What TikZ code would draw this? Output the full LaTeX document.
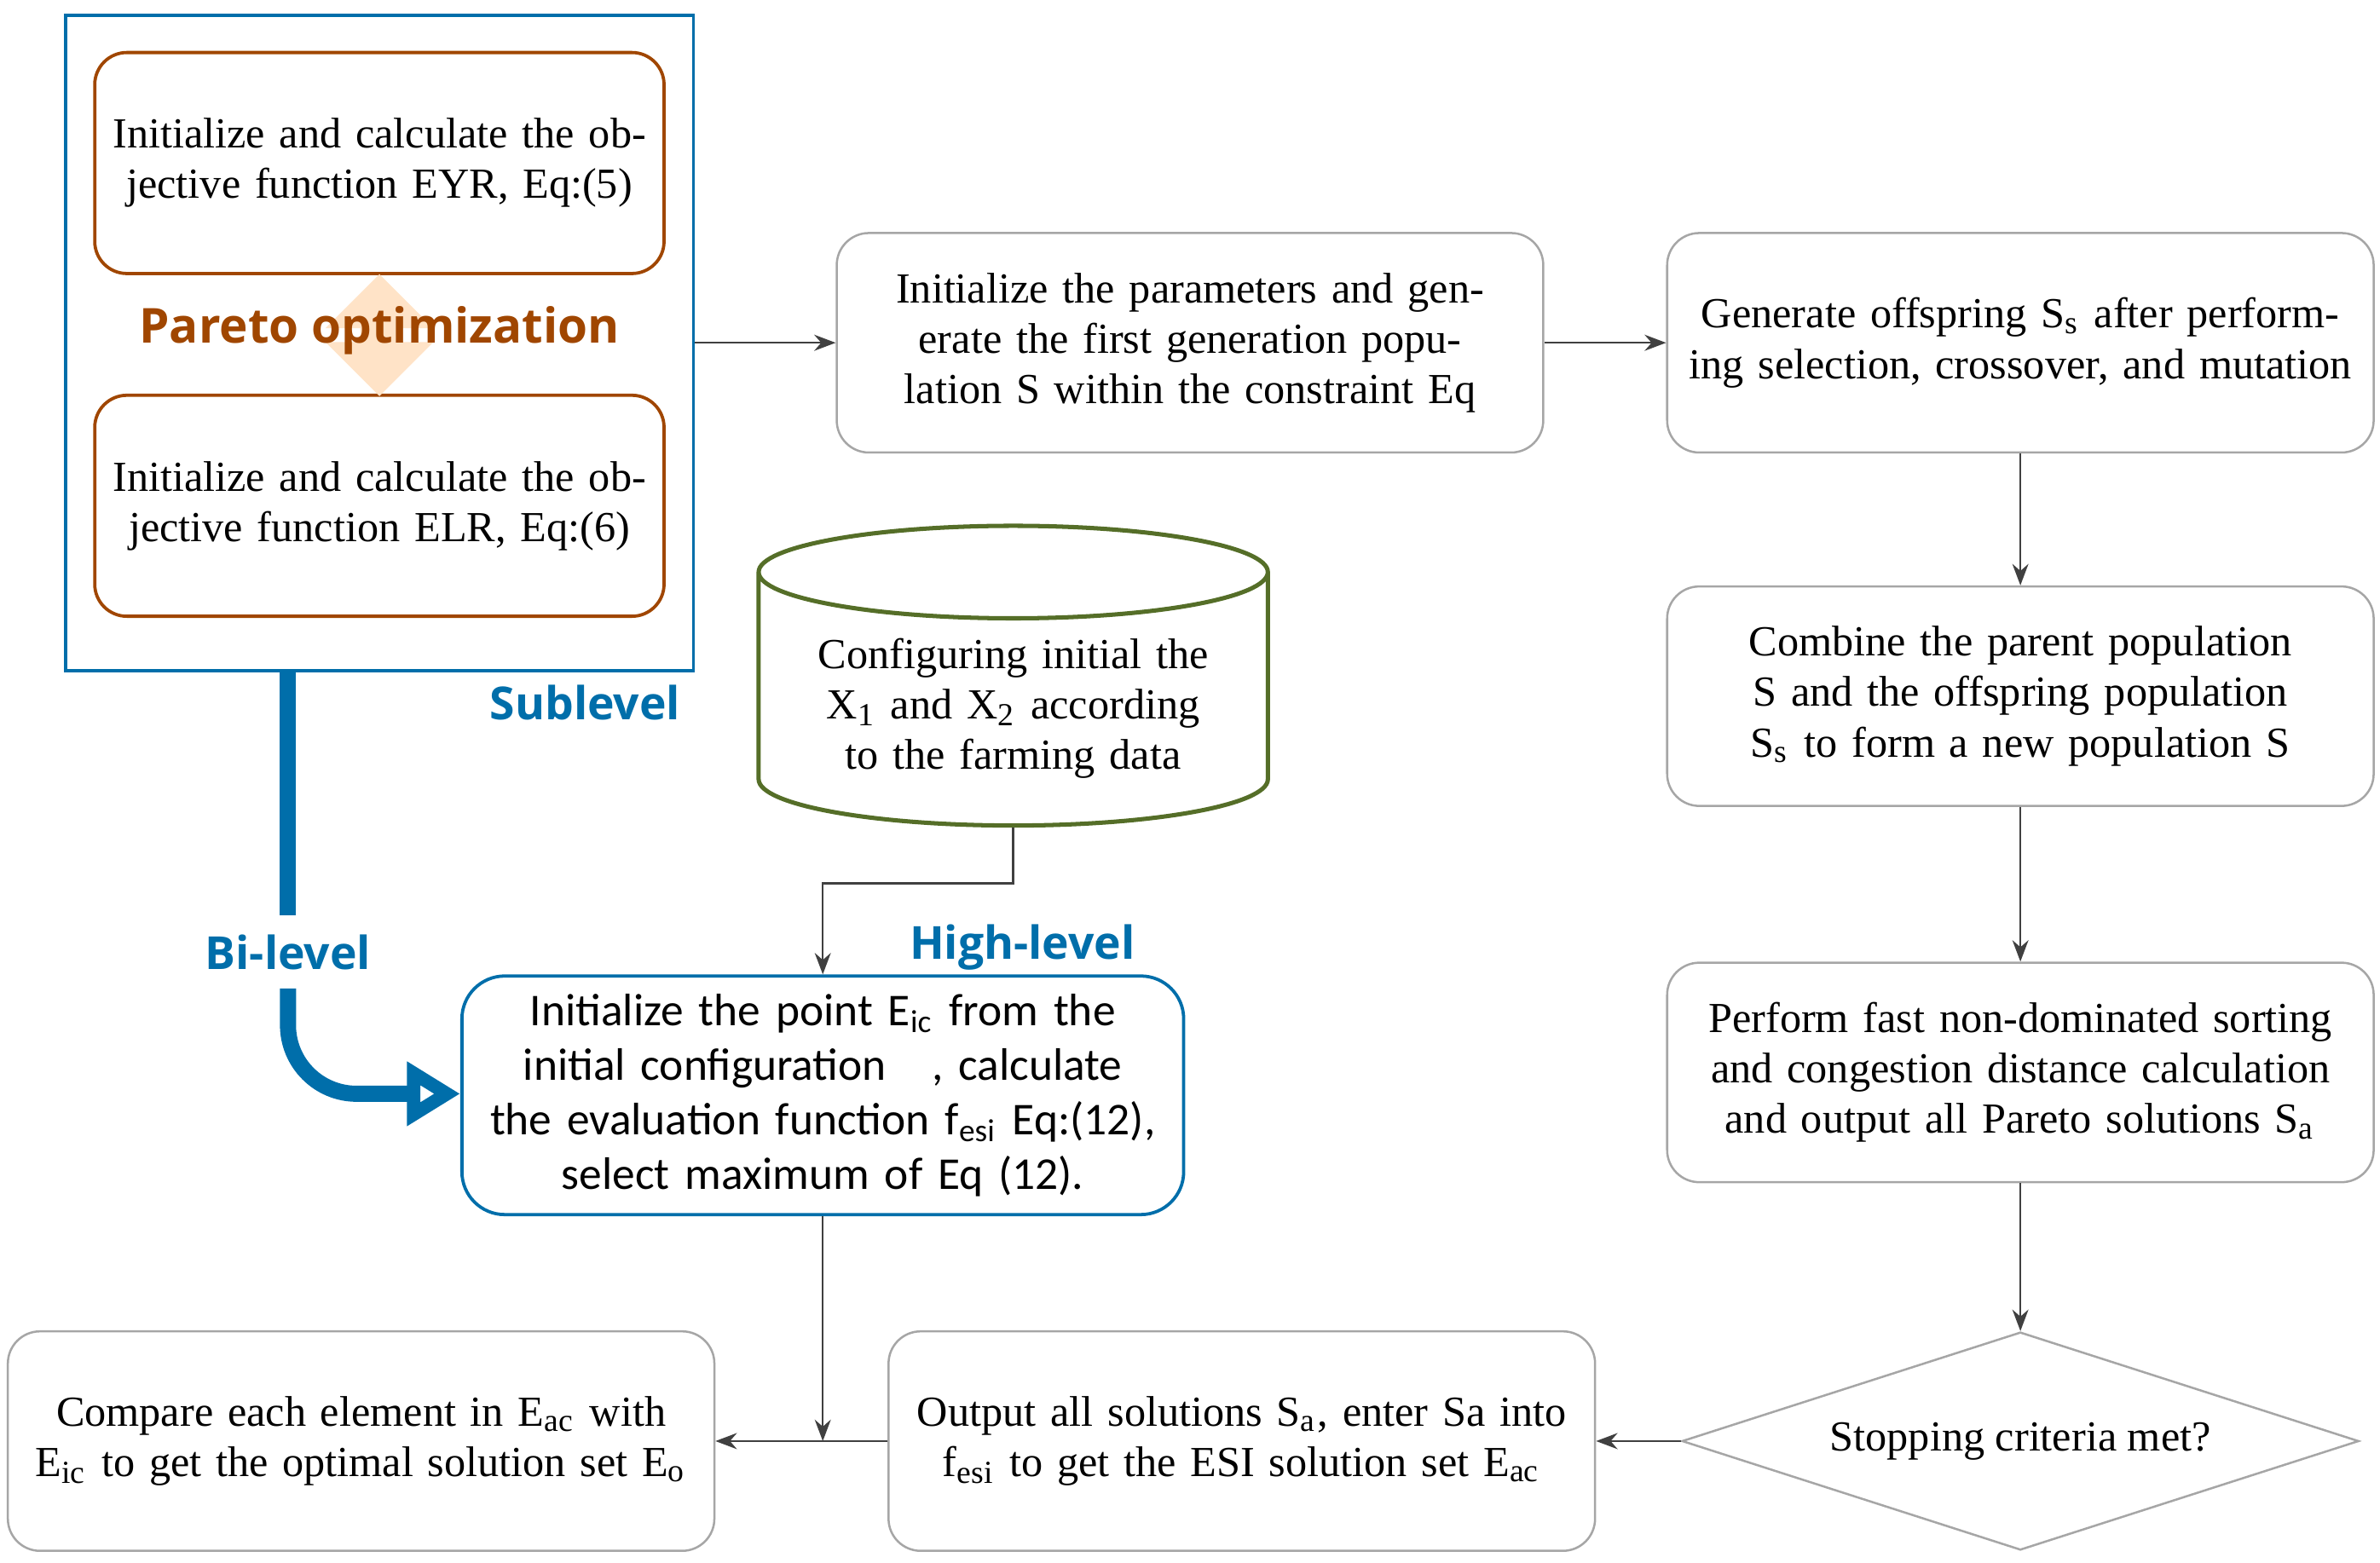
\documentclass[tikz,border=0pt]{standalone}
\usepackage{fontspec}
\setmainfont{Liberation Serif}
\newfontfamily\sansf{Carlito}
\newfontfamily\boldsans{Open Sans}
\usetikzlibrary{arrows.meta,shapes.geometric,shapes.arrows}
\definecolor{bluel}{RGB}{0,110,170}
\definecolor{brownl}{RGB}{160,70,0}
\definecolor{greenl}{RGB}{85,110,40}
\begin{document}
\begin{tikzpicture}[x=0.01cm,y=-0.01cm,>={Stealth[length=4pt,width=3pt]},font=\fontsize{8}{9.4}\selectfont]
    \tikzstyle{stage}=[rectangle,rounded corners=6pt,draw=gray!70,thin,minimum width=4.59cm,minimum height=1.44cm,align=center,text width=4.4cm]
    \tikzstyle{objective}=[stage,draw=brownl,semithick,minimum width=3.62cm,minimum height=1.45cm,text width=3.5cm]
    \tikzstyle{tag}=[font=\boldsans\bfseries\fontsize{8.5}{10}\selectfont,text=bluel]
    \tikzstyle{flow}=[->,draw=black!75,thin]

    \useasboundingbox (0,0) rectangle (1562,1026);

    % sublevel frame
    \node [draw=bluel,semithick,minimum width=4.12cm,minimum height=4.3cm] (sub) at (249,225) {};
    \node [objective] (eyr) at (249,107) {Initialize and calculate the objective function EYR, Eq:(5)};
    \node [objective] (elr) at (249,332) {Initialize and calculate the objective function ELR, Eq:(6)};
    \node [double arrow,rotate=90,fill=orange!22,minimum height=0.8cm,minimum width=0.55cm,double arrow head extend=0.23cm] (pareto) at (249,220) {};
    \node [font=\boldsans\bfseries\fontsize{9}{10}\selectfont,text=brownl] (paretolbl) at (249,217) {Pareto optimization};
    \node [tag] (sublbl) at (384,461) {Sublevel};

    % NSGA chain
    \node [stage] (init) at (781,225) {Initialize the parameters and generate the first generation population S within the constraint Eq};
    \node [stage] (offs) at (1326,225) {Generate offspring S\textsubscript{s} after performing selection, crossover, and mutation};
    \node [stage] (comb) at (1326,457) {Combine the parent population S and the offspring population S\textsubscript{s} to form a new population S};
    \node [stage] (sort) at (1326,704) {Perform fast non-dominated sorting and congestion distance calculation and output all Pareto solutions S\textsubscript{a}};
    \node [diamond,draw=gray!70,thin,aspect=3.1,minimum width=4.44cm,minimum height=1.43cm,inner sep=0pt] (stop) at (1326,946) {Stopping criteria met?};
    \node [stage] (outp) at (815,946) {Output all solutions S\textsubscript{a}, enter Sa into f\textsubscript{esi} to get the ESI solution set E\textsubscript{ac}};
    \node [stage] (comp) at (237,946) {Compare each element in E\textsubscript{ac} with E\textsubscript{ic} to get the optimal solution set E\textsubscript{o}};

    % high level
    \node [cylinder,shape border rotate=90,draw=greenl,thick,aspect=0.2,minimum width=3.34cm,minimum height=1.74cm,align=center,text width=2.8cm] (farm) at (665,465) {Configuring initial the X\textsubscript{1} and X\textsubscript{2} according to the farming data};
    \node [stage,draw=bluel,semithick,rounded corners=8pt,text width=4.5cm,font=\sansf\fontsize{8.5}{10.2}\selectfont] (eic) at (540,719) {Initialize the point E\textsubscript{ic} from the initial configuration\quad, calculate the evaluation function f\textsubscript{esi} Eq:(12), select maximum of Eq (12).};
    \node [tag] (highlbl) at (671,622) {High-level};
    \node [tag] (bilbl) at (189,625) {Bi-level};
    \coordinate (join) at (540,946);

    \draw [flow] (sub.east |- init) -- (init);
    \draw [flow] (init) -- (offs);
    \draw [flow] (offs) -- (comb);
    \draw [flow] (comb) -- (sort);
    \draw [flow] (sort) -- (stop);
    \draw [flow] (stop) -- (outp);
    \draw [flow] (outp) -- (comp);
    \draw [flow] (farm.south) |- (540,580) -- (eic.north);
    \draw [flow] (eic.south) -- (join);
    \draw [bluel,line width=3pt] (189,440) -- (bilbl.north);
    \draw [bluel,line width=3pt,rounded corners=0.45cm,-{Triangle[open,length=0.35cm,width=0.4cm,line width=2.5pt]}] (bilbl.south) -- (189,718) -- (eic.west |- 0,718);
\end{tikzpicture}
\end{document}
